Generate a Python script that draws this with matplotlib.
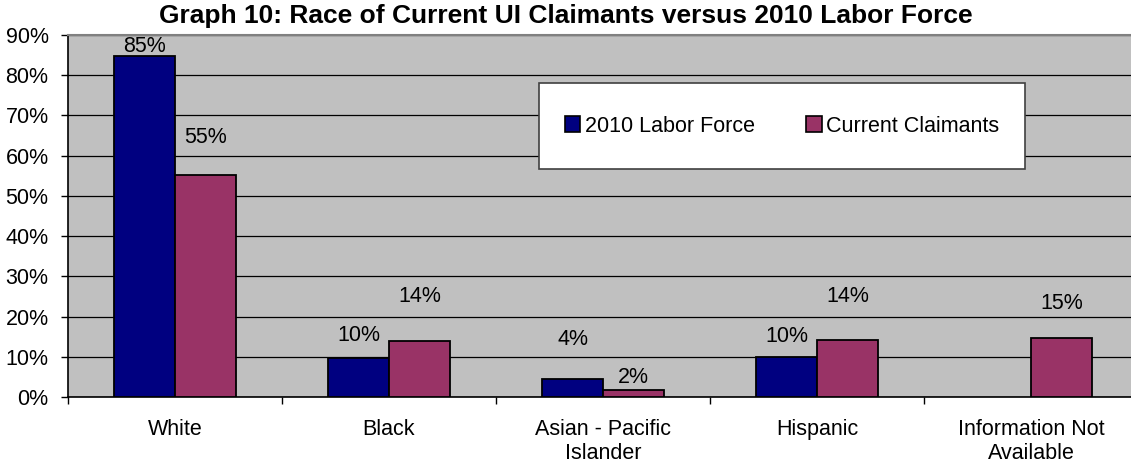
import numpy as np
import matplotlib
matplotlib.use("Agg")
from matplotlib import pyplot as plt
from matplotlib.patches import Rectangle, Patch

plt.rcParams['font.family'] = ['Liberation Sans', 'DejaVu Sans']

categories = ["White", "Black", "Asian - Pacific\nIslander", "Hispanic",
              "Information Not\nAvailable"]
labor_force = [0.848, 0.096, 0.044, 0.100, np.nan]
claimants = [0.552, 0.139, 0.017, 0.142, 0.146]
series_names = ["2010 Labor Force", "Current Claimants"]

# how far each value label's centre sits above its bar (points)
lf_offsets = [7, 16.5, 29, 14.5, 0]
cc_offsets = [27, 32, 9, 31, 25]

NAVY = "#000080"
PLUM = "#993366"
GRAY = "#C0C0C0"
FS = 15.5

fig = plt.figure(figsize=(11.31, 4.67), dpi=100)
ax = fig.add_axes([68 / 1131, 70 / 467, 1070 / 1131, 362 / 467])
ax.set_facecolor(GRAY)

x = np.arange(len(categories))
w = 0.285
b1 = ax.bar(x - w / 2, labor_force, w, color=NAVY, edgecolor="black", linewidth=1.3, zorder=3)
b2 = ax.bar(x + w / 2, claimants, w, color=PLUM, edgecolor="black", linewidth=1.3, zorder=3)

for bars, vals, offs in ((b1, labor_force, lf_offsets), (b2, claimants, cc_offsets)):
    for rect, v, off in zip(bars, vals, offs):
        if np.isnan(v):
            continue
        ax.annotate(f"{v:.0%}", (rect.get_x() + rect.get_width() / 2, v),
                    xytext=(0, off), textcoords="offset points",
                    ha="center", va="center", fontsize=FS, zorder=5,
                    annotation_clip=False)

ax.set_xlim(-0.5, len(categories) - 0.5)
ax.set_ylim(0, 0.9)
ax.set_yticks(np.arange(0, 0.91, 0.1))
ax.set_yticklabels([f"{t:.0f}%" for t in np.arange(0, 91, 10)])
ax.yaxis.grid(True, color="black", linewidth=0.9, zorder=1)
ax.set_axisbelow(True)

ax.set_xticks(np.arange(len(categories) + 1) - 0.5)
ax.set_xticklabels([])
ax.set_xticks(x, minor=True)
ax.set_xticklabels(categories, minor=True)
ax.tick_params(axis="x", which="minor", length=0, pad=16, labelsize=FS)
ax.tick_params(axis="x", which="major", length=5, width=1, color="black")
ax.tick_params(axis="y", length=5, width=1, pad=9, labelsize=FS)

for side in ("left", "bottom"):
    ax.spines[side].set_color("black")
    ax.spines[side].set_linewidth(1.2)
for side in ("top", "right"):
    ax.spines[side].set_color("#808080")
    ax.spines[side].set_linewidth(1.5)

fig.text(0.5, 1 - 16 / 467, "Graph 10: Race of Current UI Claimants versus 2010 Labor Force",
         ha="center", va="center", fontsize=19, fontweight="bold")

# legend box
box_x, box_w = (539 - 68) / 1070, 486 / 1070
box_y, box_h = (397 - 169) / 362, 86 / 362
ax.add_patch(Rectangle((box_x, box_y), box_w, box_h, transform=ax.transAxes,
                       facecolor="white", edgecolor="#404040", linewidth=1.2, zorder=4))
handles = [Patch(facecolor=NAVY, edgecolor="black", linewidth=1.2),
           Patch(facecolor=PLUM, edgecolor="black", linewidth=1.2)]
leg = ax.legend(handles, series_names, loc="center",
                bbox_to_anchor=(box_x + box_w / 2, box_y + box_h / 2),
                ncol=2, frameon=False, fontsize=FS,
                handlelength=0.72, handleheight=0.72, handletextpad=0.2,
                columnspacing=2.4)
leg.set_zorder(6)

fig.savefig("out.png", dpi=100)
